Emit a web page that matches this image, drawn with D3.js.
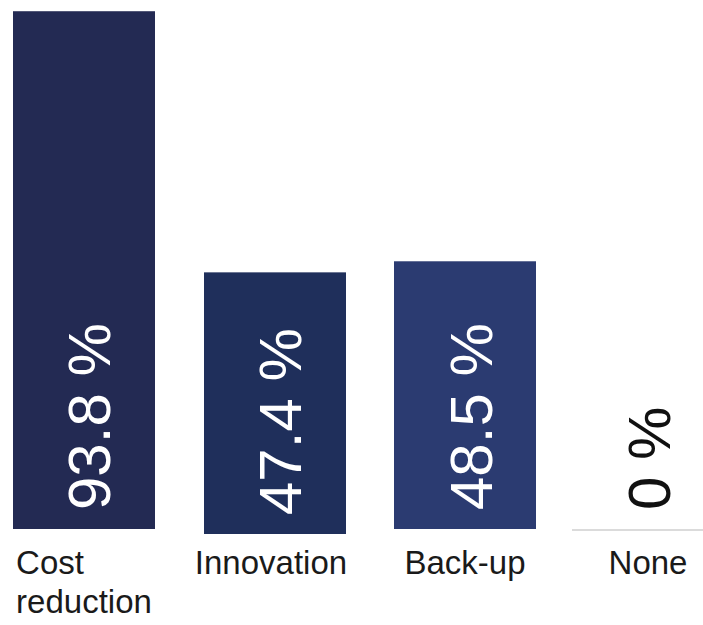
<!DOCTYPE html>
<html>
<head>
<meta charset="utf-8">
<script src="https://cdn.jsdelivr.net/npm/d3@7"></script>
<style>
  html, body { margin: 0; padding: 0; background: #fff; }
  svg { display: block; }
</style>
</head>
<body>
<svg id="chart" width="703" height="625"></svg>
<script>
// Motivations for adoption — share of respondents
const categories = ["Cost reduction", "Innovation", "Back-up", "None"];
const labelLines = [["Cost", "reduction"], ["Innovation"], ["Back-up"], ["None"]];
const values = [93.8, 47.4, 48.5, 0];
const valueLabels = ["93.8 %", "47.4 %", "48.5 %", "0 %"];
const barColors = ["#232a53", "#1f2f5b", "#2b3b71", "#2b3b71"];

// layout
const W = 703, H = 625;
const baseY = 529;
const nudgeX = [0, 5, 9, 1];      // hand-placed offsets of the bar groups
const nudgeY = [0, 5, 0, 0];
const labelNudgeX = [0, -4, 0, 5]; // offsets of the category captions

const svg = d3.select("#chart");

const x = d3.scaleBand()
  .domain(categories)
  .range([13, 713])
  .paddingInner(0.2366)
  .paddingOuter(0);

const y = d3.scaleLinear()
  .domain([0, 100])
  .range([baseY, baseY - 552]);

const data = categories.map((c, i) => ({
  cat: c, value: values[i], label: valueLabels[i], lines: labelLines[i],
  color: barColors[i], dx: nudgeX[i], dy: nudgeY[i], ldx: labelNudgeX[i]
}));

const g = svg.selectAll("g.bar")
  .data(data)
  .join("g")
  .attr("class", "bar")
  .attr("transform", d => `translate(${x(d.cat) + d.dx},${d.dy})`);

// bars
g.append("rect")
  .attr("x", 0)
  .attr("width", x.bandwidth())
  .attr("y", d => y(d.value))
  .attr("height", d => y(0) - y(d.value))
  .attr("fill", d => d.color);

// zero-value bars show as a light baseline
g.filter(d => d.value === 0)
  .append("line")
  .attr("x1", 0)
  .attr("x2", x.bandwidth())
  .attr("y1", y(0) + 1)
  .attr("y2", y(0) + 1)
  .attr("stroke", "#cfcfcf")
  .attr("stroke-width", 1.5);

// value labels, rotated, reading upward from the bar base
g.append("text")
  .attr("transform", d => `translate(${x.bandwidth() / 2 + 26.5},${y(0) - 19}) rotate(-90)`)
  .attr("text-anchor", "start")
  .attr("font-family", "'Liberation Sans', Arial, sans-serif")
  .attr("font-size", 60)
  .attr("fill", d => d.value === 0 ? "#111" : "#fff")
  .text(d => d.label);

// category labels under the bars (multi-line blocks are centred, lines left-aligned)
const catLabel = svg.selectAll("g.cat")
  .data(data)
  .join("g")
  .attr("class", "cat");

catLabel.each(function(d) {
  const cx = x(d.cat) + d.dx + d.ldx + x.bandwidth() / 2;
  const t = d3.select(this).append("text")
    .attr("font-family", "'Liberation Sans', Arial, sans-serif")
    .attr("font-size", 33)
    .attr("fill", "#1a1a1a")
    .attr("y", 574);
  d.lines.forEach((ln, k) => {
    t.append("tspan").attr("x", 0).attr("dy", k === 0 ? 0 : 39).text(ln);
  });
  const bb = t.node().getBBox();
  t.attr("transform", `translate(${cx - bb.width / 2},0)`);
});
</script>
</body>
</html>
